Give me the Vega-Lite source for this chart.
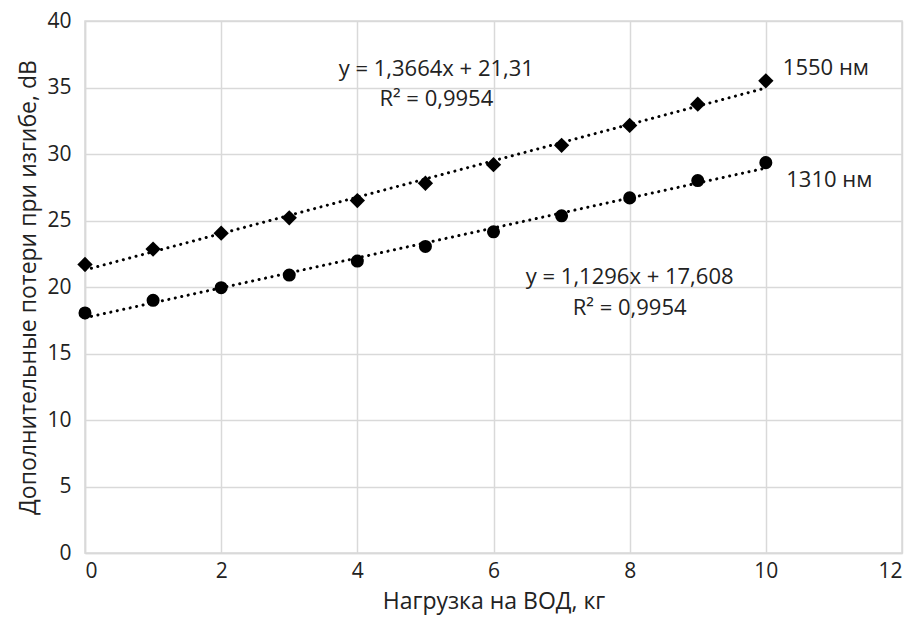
{
  "$schema": "https://vega.github.io/schema/vega-lite/v6.json",
  "width": 817,
  "height": 532,
  "autosize": "none",
  "padding": {"left": 85, "top": 21, "right": 17, "bottom": 66},
  "background": "white",
  "config": {
    "font": "Open Sans",
    "view": {"stroke": "#d9d9d9", "strokeWidth": 1.5},
    "axis": {
      "gridColor": "#d9d9d9",
      "gridWidth": 1.5,
      "domainColor": "#d9d9d9",
      "domainWidth": 1.5,
      "ticks": false,
      "labelFont": "Open Sans",
      "labelFontSize": 21,
      "labelColor": "#222222",
      "titleFont": "Open Sans",
      "titleFontSize": 23,
      "titleFontWeight": "normal",
      "titleColor": "#222222"
    }
  },
  "datasets": {
    "pts": [
      {"x": 0, "y": 21.7, "s": "1550"}, {"x": 1, "y": 22.85, "s": "1550"}, {"x": 2, "y": 24.05, "s": "1550"},
      {"x": 3, "y": 25.2, "s": "1550"}, {"x": 4, "y": 26.5, "s": "1550"}, {"x": 5, "y": 27.8, "s": "1550"},
      {"x": 6, "y": 29.2, "s": "1550"}, {"x": 7, "y": 30.65, "s": "1550"}, {"x": 8, "y": 32.15, "s": "1550"},
      {"x": 9, "y": 33.75, "s": "1550"}, {"x": 10, "y": 35.5, "s": "1550"},
      {"x": 0, "y": 18.05, "s": "1310"}, {"x": 1, "y": 19.0, "s": "1310"}, {"x": 2, "y": 19.95, "s": "1310"},
      {"x": 3, "y": 20.9, "s": "1310"}, {"x": 4, "y": 21.95, "s": "1310"}, {"x": 5, "y": 23.05, "s": "1310"},
      {"x": 6, "y": 24.15, "s": "1310"}, {"x": 7, "y": 25.35, "s": "1310"}, {"x": 8, "y": 26.7, "s": "1310"},
      {"x": 9, "y": 28.0, "s": "1310"}, {"x": 10, "y": 29.35, "s": "1310"}
    ],
    "labels": [
      {"x": 5.16, "y": 36.4, "t": "y = 1,3664x + 21,31", "a": "center"},
      {"x": 5.16, "y": 34.1, "t": "R² = 0,9954", "a": "center"},
      {"x": 8.0, "y": 20.75, "t": "y = 1,1296x + 17,608", "a": "center"},
      {"x": 8.0, "y": 18.4, "t": "R² = 0,9954", "a": "center"},
      {"x": 10.25, "y": 36.5, "t": "1550 нм", "a": "left"},
      {"x": 10.3, "y": 28.05, "t": "1310 нм", "a": "left"}
    ]
  },
  "layer": [
    {
      "data": {"name": "pts"},
      "transform": [{"regression": "y", "on": "x", "groupby": ["s"], "extent": [0, 10]}],
      "mark": {"type": "line", "color": "black", "strokeWidth": 3, "strokeDash": [0.1, 6.5], "strokeCap": "round"},
      "encoding": {
        "x": {"field": "x", "type": "quantitative"},
        "y": {"field": "y", "type": "quantitative"},
        "detail": {"field": "s"}
      }
    },
    {
      "data": {"name": "pts"},
      "mark": {"type": "point", "filled": true, "opacity": 1, "color": "black"},
      "encoding": {
        "x": {
          "field": "x", "type": "quantitative",
          "scale": {"domain": [0, 12], "nice": false},
          "axis": {"values": [0, 2, 4, 6, 8, 10, 12], "format": "d", "title": "Нагрузка на ВОД, кг", "labelPadding": 7, "titlePadding": 9}
        },
        "y": {
          "field": "y", "type": "quantitative",
          "scale": {"domain": [0, 40], "nice": false},
          "axis": {"values": [0, 5, 10, 15, 20, 25, 30, 35, 40], "format": "d", "title": "Дополнительные потери при изгибе, dB", "labelPadding": 14, "titlePadding": 6}
        },
        "shape": {
          "field": "s", "type": "nominal",
          "scale": {"domain": ["1550", "1310"], "range": ["diamond", "circle"]},
          "legend": null
        },
        "size": {
          "field": "s", "type": "nominal",
          "scale": {"domain": ["1550", "1310"], "range": [235, 170]},
          "legend": null
        }
      }
    },
    {
      "data": {"name": "labels"},
      "transform": [{"filter": "datum.a == 'center'"}],
      "mark": {"type": "text", "font": "Open Sans", "fontSize": 22, "color": "#222222", "align": "center", "baseline": "middle"},
      "encoding": {
        "x": {"field": "x", "type": "quantitative"},
        "y": {"field": "y", "type": "quantitative"},
        "text": {"field": "t"}
      }
    },
    {
      "data": {"name": "labels"},
      "transform": [{"filter": "datum.a == 'left'"}],
      "mark": {"type": "text", "font": "Open Sans", "fontSize": 22, "color": "#222222", "align": "left", "baseline": "middle"},
      "encoding": {
        "x": {"field": "x", "type": "quantitative"},
        "y": {"field": "y", "type": "quantitative"},
        "text": {"field": "t"}
      }
    }
  ]
}
